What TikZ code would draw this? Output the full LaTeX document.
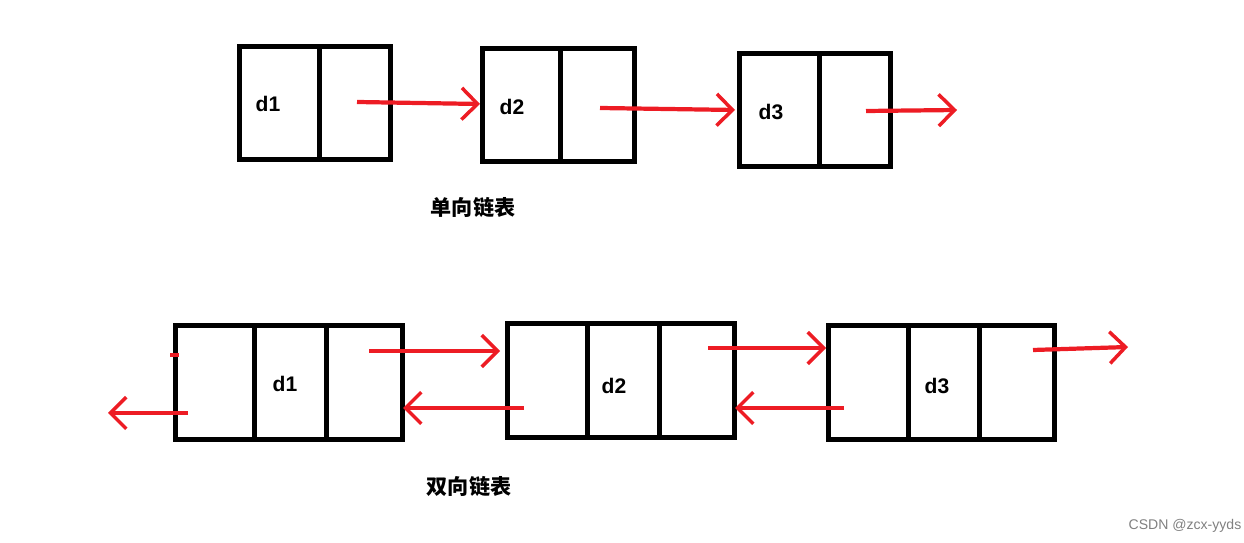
\documentclass[tikz,border=0pt]{standalone}
\usepackage{fontspec}
\setmainfont{Liberation Sans}
\newfontfamily\cjk{Noto Sans CJK SC}
\usetikzlibrary{arrows.meta}
\tikzset{
  cell/.style={draw, line width=2.6pt, inner sep=0pt, anchor=north west},
  link/.style={draw={rgb,255:red,237;green,28;blue,36}, line width=2.4pt,
    -{Straight Barb[length=9pt,width=18pt,line width=2pt]}},
  lab/.style={font=\bfseries\large},
  caption/.style={font=\cjk\bfseries\large}
}
\begin{document}
\begin{tikzpicture}[x=0.02cm,y=-0.02cm]
\useasboundingbox (0,0) rectangle (1244,543);
% single list
\foreach \n/\x/\y/\wa/\wb in {1/237/44/80/71, 2/480/46/78/74, 3/737/51/80/71} {
  \node[cell, minimum width=\wa*0.02cm, minimum height=113*0.02cm] (s\n a) at (\x,\y) {};
  \node[cell, minimum width=\wb*0.02cm, minimum height=113*0.02cm] (s\n b) at (\x+\wa,\y) {};
}
\node[lab] (sd1) at (268,104) {d1};
\node[lab] (sd2) at (512,107) {d2};
\node[lab] (sd3) at (771,112) {d3};
\coordinate (se1) at (357,102);
\coordinate (se2) at (600,108);
\coordinate (se3) at (866,111);
\coordinate (snil) at (957,110);
\draw[link] (se1) -- (480,104);
\draw[link] (se2) -- (735,110);
\draw[link] (se3) -- (snil);
\node[caption] (scap) at (473,207) {单向链表};
% double list
\foreach \n/\x/\y/\wa/\wb/\wc in {1/173/323/79/72/76, 2/505/321/80/72/75, 3/826/323/80/71/75} {
  \node[cell, minimum width=\wa*0.02cm, minimum height=114*0.02cm] (d\n a) at (\x,\y) {};
  \node[cell, minimum width=\wb*0.02cm, minimum height=114*0.02cm] (d\n b) at (\x+\wa,\y) {};
  \node[cell, minimum width=\wc*0.02cm, minimum height=114*0.02cm] (d\n c) at (\x+\wa+\wb,\y) {};
}
\node[lab] (dd1) at (285,384) {d1};
\node[lab] (dd2) at (614,386) {d2};
\node[lab] (dd3) at (937,386) {d3};
\coordinate (dnilL) at (108,413);
\coordinate (dnilR) at (1128,347);
\draw[link] (369,351) -- (500,351);
\draw[link] (708,348) -- (826,348);
\draw[link] (1033,350) -- (dnilR);
\draw[link] (188,413) -- (dnilL);
\draw[link] (524,408) -- (403,408);
\draw[link] (844,408) -- (735,408);
\draw[draw={rgb,255:red,237;green,28;blue,36}, line width=2.4pt] (170,355) -- (179,355);
\node[caption] (dcap) at (469,486) {双向链表};
\node[text=gray, font=\footnotesize] (mark) at (1185,526) {CSDN @zcx-yyds};
\end{tikzpicture}
\end{document}
